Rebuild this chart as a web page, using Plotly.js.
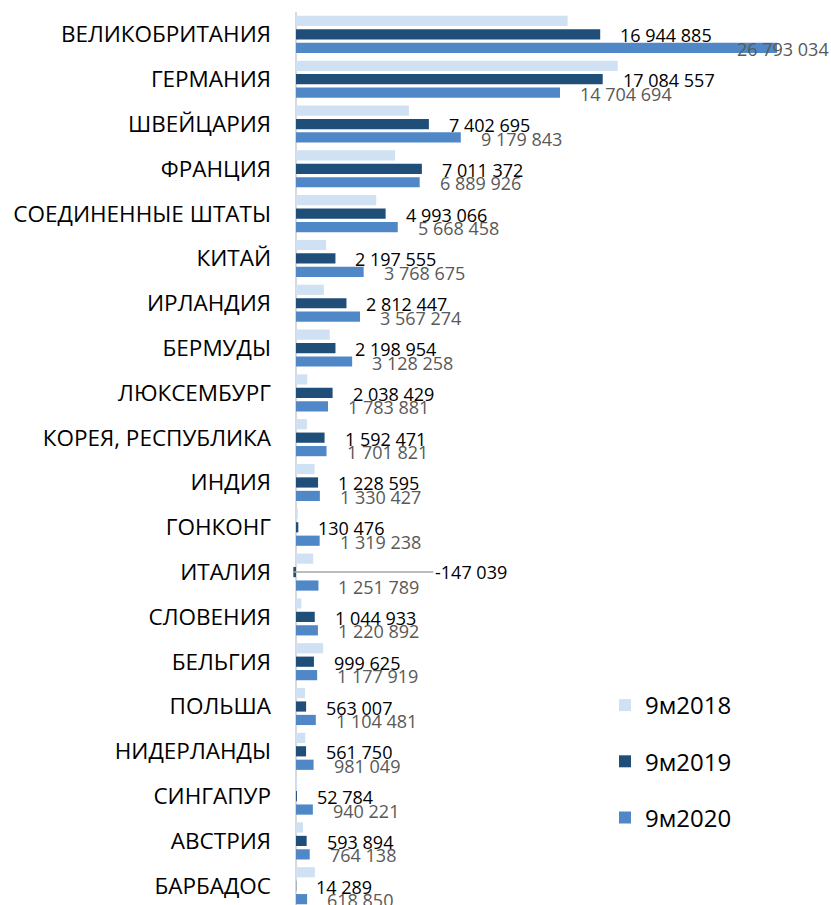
<!DOCTYPE html>
<html><head><meta charset="utf-8">
<script src="https://cdn.plot.ly/plotly-3.0.1.min.js"></script>
<style>html,body{margin:0;padding:0;background:#fff}#chart{width:831px;height:905px}</style>
</head><body><div id="chart"></div>
<script>
const categories = ['ВЕЛИКОБРИТАНИЯ','ГЕРМАНИЯ','ШВЕЙЦАРИЯ','ФРАНЦИЯ','СОЕДИНЕННЫЕ ШТАТЫ','КИТАЙ','ИРЛАНДИЯ','БЕРМУДЫ','ЛЮКСЕМБУРГ','КОРЕЯ, РЕСПУБЛИКА','ИНДИЯ','ГОНКОНГ','ИТАЛИЯ','СЛОВЕНИЯ','БЕЛЬГИЯ','ПОЛЬША','НИДЕРЛАНДЫ','СИНГАПУР','АВСТРИЯ','БАРБАДОС'];
const s2018 = [15130000,17920000,6290000,5520000,4470000,1680000,1550000,1880000,630000,610000,1040000,100000,960000,300000,1510000,500000,520000,60000,390000,1050000];
const s2019 = [16944885,17084557,7402695,7011372,4993066,2197555,2812447,2198954,2038429,1592471,1228595,130476,-147039,1044933,999625,563007,561750,52784,593894,14289];
const s2020 = [26793034,14704694,9179843,6889926,5668458,3768675,3567274,3128258,1783881,1701821,1330427,1319238,1251789,1220892,1177919,1104481,981049,940221,764138,618850];
const seriesNames = ['9м2018','9м2019','9м2020'];

function fmt(v){
  const s = Math.abs(Math.round(v)).toString().replace(/\B(?=(\d{3})+(?!\d))/g,' ');
  return (v<0?'-':'')+s;
}

const xMin = -445000, xMax = 29800000;
const colors = ['#cfe1f3','#1f4e79','#5087c7'];
const font = 'Open Sans, sans-serif';

const traces = [s2018,s2019,s2020].map((vals,i)=>({
  type:'bar', orientation:'h', y:categories, x:vals, name:seriesNames[i],
  marker:{color:colors[i]}, legendgroup:'g'+i, hoverinfo:'none'
}));

const annotations = [];
categories.forEach((c,k)=>{
  const v = s2019[k];
  if (v >= 0) {
    annotations.push({x:v, y:c, xref:'x', yref:'y', text:fmt(v), showarrow:false,
      xanchor:'left', xshift:18, yshift:-1, font:{family:font,size:18,color:'#000'}});
  } else {
    annotations.push({x:v, y:c, xref:'x', yref:'y', text:fmt(v), showarrow:true,
      arrowhead:0, arrowwidth:1.5, arrowcolor:'#a6a6a6', ax:140, ay:0, xanchor:'left',
      standoff:0, font:{family:font,size:18,color:'#000'}});
  }
  const w = s2020[k];
  const overflow = w > xMax*0.85;
  annotations.push({x: overflow ? xMax : w, y:c, xref:'x', yref:'y', text:fmt(w), showarrow:false,
    xanchor: overflow ? 'right' : 'left', xshift: overflow ? 0 : 18, yshift:-14.5,
    font:{family:font,size:18,color:'#595959'}});
});

const layout = {
  width:831, height:905, margin:{l:288,r:0,t:12,b:0},
  paper_bgcolor:'#fff', plot_bgcolor:'#fff',
  barmode:'group', bargap:0.1, bargroupgap:0.24,
  xaxis:{range:[xMin,xMax], showgrid:false, showticklabels:false, zeroline:true,
    zerolinecolor:'#d9d9d9', zerolinewidth:2, ticks:'', showline:false, fixedrange:true},
  yaxis:{type:'category', range:[19.43,-0.5], autorange:false, showgrid:false, zeroline:false,
    ticks:'', ticklabelstandoff:16, tickfont:{family:font,size:22.5,color:'#000'}, fixedrange:true},
  showlegend:true,
  legend:{x:(605-288)/543, y:(905-683)/893, xref:'paper', yref:'paper', xanchor:'left', yanchor:'top',
    font:{family:font,size:24,color:'#000'}, traceorder:'grouped', tracegroupgap:22, bgcolor:'rgba(0,0,0,0)'},
  annotations: annotations
};

Plotly.newPlot('chart', traces, layout, {displayModeBar:false, staticPlot:true});
</script>
</body></html>
